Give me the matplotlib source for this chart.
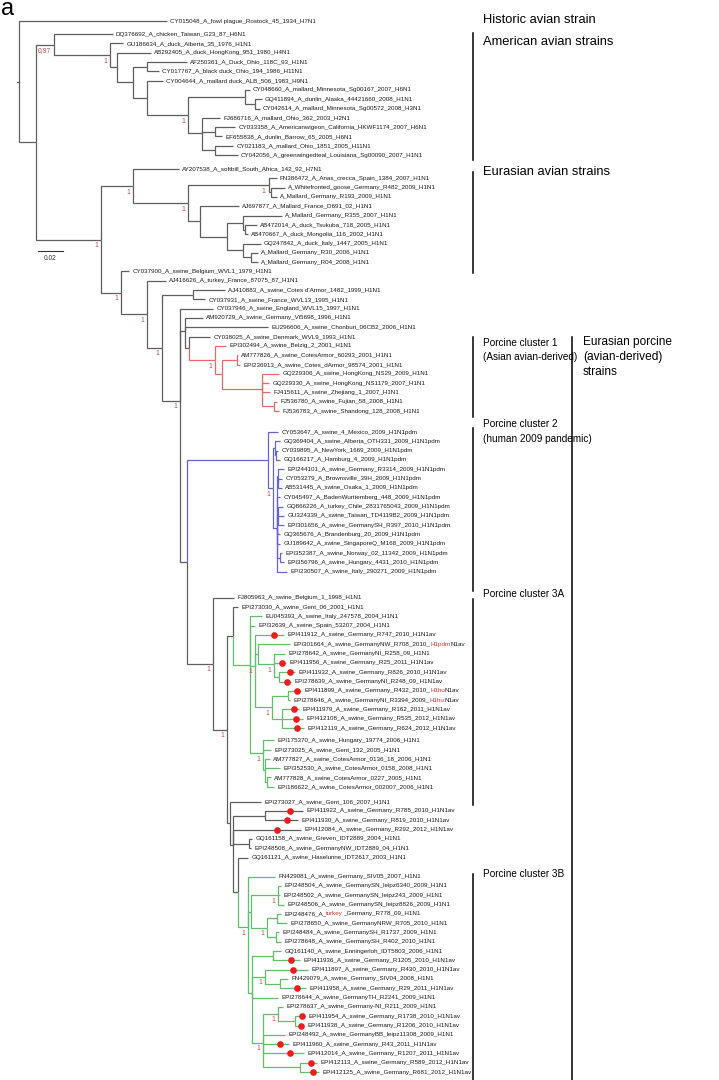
import re
import matplotlib
matplotlib.use('Agg')
import matplotlib.pyplot as plt

plt.rcParams['font.family'] = ['Liberation Sans', 'DejaVu Sans']

# ---------------- taxa (leaf labels; [..] marks red text) ----------------
historic_taxa = ["CY015048_A_fowl plague_Rostock_45_1934_H7N1"]
american_taxa = [
    "DQ376692_A_chicken_Taiwan_G23_87_H6N1",
    "GU186634_A_duck_Alberta_35_1976_H1N1",
    "AB292405_A_duck_HongKong_951_1980_H4N1",
    "AF250361_A_Duck_Ohio_118C_93_H1N1",
    "CY017767_A_black duck_Ohio_194_1986_H11N1",
    "CY004644_A_mallard duck_ALB_506_1983_H9N1",
    "CY048660_A_mallard_Minnesota_Sg00167_2007_H6N1",
    "GQ411894_A_dunlin_Alaska_44421660_2008_H1N1",
    "CY042614_A_mallard_Minnesota_Sg00572_2008_H3N1",
    "FJ686716_A_mallard_Ohio_362_2003_H2N1",
    "CY033358_A_Americanwigeon_California_HKWF1174_2007_H6N1",
    "EF655838_A_dunlin_Barrow_65_2005_H6N1",
    "CY021183_A_mallard_Ohio_1851_2005_H11N1",
    "CY042056_A_greenwingedteal_Louisiana_Sg00090_2007_H1N1",
]
eurasian_taxa = [
    "AY207538_A_softbill_South_Africa_142_92_H7N1",
    "FN386472_A_Anas_crecca_Spain_1384_2007_H1N1",
    "A_Whitefronted_goose_Germany_R482_2009_H1N1",
    "A_Mallard_Germany_R193_2009_H1N1",
    "AJ697877_A_Mallard_France_D691_02_H1N1",
    "A_Mallard_Germany_R355_2007_H1N1",
    "AB472014_A_duck_Tsukuba_718_2005_H1N1",
    "AB470667_A_duck_Mongolia_116_2002_H1N1",
    "GQ247842_A_duck_Italy_1447_2005_H1N1",
    "A_Mallard_Germany_R30_2006_H1N1",
    "A_Mallard_Germany_R04_2008_H1N1",
]
early_swine_taxa = [
    "CY037900_A_swine_Belgium_WVL1_1979_H1N1",
    "AJ416626_A_turkey_France_87075_87_H1N1",
    "AJ410883_A_swine_Cotes d'Armor_1482_1999_H1N1",
    "CY037931_A_swine_France_WVL13_1995_H1N1",
    "CY037946_A_swine_England_WVL15_1997_H1N1",
    "AM920729_A_swine_Germany_Vi5698_1996_H1N1",
    "EU296606_A_swine_Chonburi_06CB2_2006_H1N1",
    "CY038025_A_swine_Denmark_WVL9_1993_H1N1",
]
cluster1_taxa = [
    "EPI302494_A_swine_Belzig_2_2001_H1N1",
    "AM777826_A_swine_CotesArmor_60293_2001_H1N1",
    "EPI236913_A_swine_Cotes_dArmor_98574_2001_H1N1",
    "GQ229306_A_swine_HongKong_NS29_2009_H1N1",
    "GQ229330_A_swine_HongKong_NS1179_2007_H1N1",
    "FJ415611_A_swine_Zhejiang_1_2007_H1N1",
    "FJ536780_A_swine_Fujian_58_2008_H1N1",
    "FJ536783_A_swine_Shandong_128_2008_H1N1",
]
cluster2_taxa = [
    "CY053647_A_swine_4_Mexico_2009_H1N1pdm",
    "GQ369404_A_swine_Alberta_OTH331_2009_H1N1pdm",
    "CY039895_A_NewYork_1669_2009_H1N1pdm",
    "GQ166217_A_Hamburg_4_2009_H1N1pdm",
    "EPI244101_A_swine_Germany_R3314_2009_H1N1pdm",
    "CY053279_A_Brownsville_39H_2009_H1N1pdm",
    "AB531445_A_swine_Osaka_1_2009_H1N1pdm",
    "CY045497_A_BadenWurttemberg_448_2009_H1N1pdm",
    "GQ866226_A_turkey_Chile_2831765043_2009_H1N1pdm",
    "GU324339_A_swine_Taiwan_TD4119B2_2009_H1N1pdm",
    "EPI301656_A_swine_GermanySH_R397_2010_H1N1pdm",
    "GQ365676_A_Brandenburg_20_2009_H1N1pdm",
    "GU189642_A_swine_SingaporeQ_M168_2009_H1N1pdm",
    "EPI352387_A_swine_Norway_02_11342_2009_H1N1pdm",
    "EPI356796_A_swine_Hungary_4431_2010_H1N1pdm",
    "EPI230507_A_swine_Italy_290271_2009_H1N1pdm",
]
cluster3a_taxa = [
    "FJ805963_A_swine_Belgium_1_1998_H1N1",
    "EPI273030_A_swine_Gent_06_2001_H1N1",
    "EU045393_A_swine_Italy_247578_2004_H1N1",
    "EPI32639_A_swine_Spain_53207_2004_H1N1",
    "EPI411912_A_swine_Germany_R747_2010_H1N1av",
    "EPI301664_A_swine_GermanyNW_R708_2010_[H1pdm]N1av",
    "EPI278642_A_swine_GermanyNI_R258_09_H1N1",
    "EPI411956_A_swine_Germany_R25_2011_H1N1av",
    "EPI411932_A_swine_Germany_R826_2010_H1N1av",
    "EPI278639_A_swine_GermanyNI_R248_09_H1N1av",
    "EPI411899_A_swine_Germany_R432_2010_[H1hu]N1av",
    "EPI278646_A_swine_GermanyNI_R3394_2009_[H1hu]N1av",
    "EPI411979_A_swine_Germany_R162_2011_H1N1av",
    "EPI412108_A_swine_Germany_R535_2012_H1N1av",
    "EPI412119_A_swine_Germany_R624_2012_H1N1av",
    "EPI175370_A_swine_Hungary_19774_2006_H1N1",
    "EPI273025_A_swine_Gent_132_2005_H1N1",
    "AM777827_A_swine_CotesArmor_0136_18_2006_H1N1",
    "EPI352530_A_swine_CotesArmor_0158_2008_H1N1",
    "AM777828_A_swine_CotesArmor_0227_2005_H1N1",
    "EPI186622_A_swine_CotesArmor_002007_2006_H1N1",
]
between_taxa = [
    "EPI273027_A_swine_Gent_106_2007_H1N1",
    "EPI411922_A_swine_Germany_R785_2010_H1N1av",
    "EPI411930_A_swine_Germany_R819_2010_H1N1av",
    "EPI412084_A_swine_Germany_R292_2012_H1N1av",
    "GQ161158_A_swine_Greven_IDT2889_2004_H1N1",
    "EPI248508_A_swine_GermanyNW_IDT2889_04_H1N1",
    "GQ161121_A_swine_Haselunne_IDT2617_2003_H1N1",
]
cluster3b_taxa = [
    "FN429081_A_swine_Germany_SIV05_2007_H1N1",
    "EPI248504_A_swine_GermanySN_leipz6340_2009_H1N1",
    "EPI248502_A_swine_GermanySN_leipz243_2009_H1N1",
    "EPI248506_A_swine_GermanySN_leipz8826_2009_H1N1",
    "EPI248476_A_[turkey]_Germany_R778_09_H1N1",
    "EPI278650_A_swine_GermanyNRW_R705_2010_H1N1",
    "EPI248484_A_swine_GermanySH_R1737_2009_H1N1",
    "EPI278648_A_swine_GermanySH_R402_2010_H1N1",
    "GQ161140_A_swine_Enningerloh_IDT5803_2006_H1N1",
    "EPI411936_A_swine_Germany_R1205_2010_H1N1av",
    "EPI411897_A_swine_Germany_R430_2010_H1N1av",
    "FN429079_A_swine_Germany_SIV04_2008_H1N1",
    "EPI411958_A_swine_Germany_R29_2011_H1N1av",
    "EPI278644_A_swine_GermanyTH_R2241_2009_H1N1",
    "EPI278637_A_swine_Germany-NI_R211_2009_H1N1",
    "EPI411954_A_swine_Germany_R1738_2010_H1N1av",
    "EPI411938_A_swine_Germany_R1206_2010_H1N1av",
    "EPI248492_A_swine_GermanyBB_leipz11308_2009_H1N1",
    "EPI411960_A_swine_Germany_R43_2011_H1N1av",
    "EPI412014_A_swine_Germany_R1207_2011_H1N1av",
    "EPI412113_A_swine_Germany_R589_2012_H1N1av",
    "EPI412125_A_swine_Germany_R681_2012_H1N1av",
]

RED_LINE = '#e8696b'
BLUE_LINE = '#6464d8'
GREEN_LINE = '#5fbf6a'
GRAY_LINE = '#5e5e5e'


def L(name, bl, dot=False):
    return {'name': name, 'bl': bl, 'dot': dot, 'kids': None, 'sup': None, 'color': None}


def N(bl, *kids, sup=None, color=None):
    return {'name': None, 'bl': bl, 'dot': False, 'kids': list(kids), 'sup': sup, 'color': color}


# branch lengths in 1e-3 substitutions/site
am, eu, sw = american_taxa, eurasian_taxa, early_swine_taxa
c1, c2, c3a, bt, c3b = cluster1_taxa, cluster2_taxa, cluster3a_taxa, between_taxa, cluster3b_taxa

american_avian = N(14, L(am[0], 48),
    N(46, L(am[1], 10.5),
      N(5.7, L(am[2], 27.5),
        N(13, N(11.3, L(am[3], 32.4), L(am[4], 9.7)),
          N(11.3, L(am[5], 13),
            N(33, N(46, L(am[6], 4), N(8, L(am[7], 5.7), L(am[8], 4))),
              N(11.3, L(am[9], 14.6), N(10.5, L(am[10], 16.2), L(am[11], 5.7)),
                N(10.5, L(am[12], 14.6), L(am[13], 18.6))), sup=1)))), sup=1),
    sup=0.97)

eurasian_avian = N(26, L(eu[0], 36.5),
    N(44.5, N(65, L(eu[1], 6.5), N(1.6, L(eu[2], 11.3), L(eu[3], 4.9)), sup=1),
      N(9.7, L(eu[4], 31.6),
        N(21.9, N(12.2, L(eu[5], 31.6), N(2.4, L(eu[6], 9.7), L(eu[7], 2.4))),
          N(12.2, L(eu[8], 14.6), N(6.5, L(eu[9], 5.7), L(eu[10], 5.7))))), sup=1),
    sup=1)

porcine_cluster_1 = N(21, L(c1[0], 8.9),
    N(5.7, N(12.2, L(c1[1], 0.8), L(c1[2], 2.4)),
      N(32.4, L(c1[3], 13.8), L(c1[4], 5.7), L(c1[5], 6.5),
        N(9.7, L(c1[6], 2.4), L(c1[7], 4)))),
    sup=1, color=RED_LINE)

porcine_cluster_2 = N(65.6, L(c2[0], 8.1),
    N(4, N(1.6, L(c2[1], 4), N(0.8, L(c2[2], 1.6), L(c2[3], 3.2))),
      N(3.2, N(0.4, L(c2[4], 5.3), N(0.4, L(c2[5], 3.2), L(c2[6], 3.2))),
        L(c2[7], 2.4),
        N(0.4, L(c2[8], 4.5), L(c2[9], 5.3), L(c2[10], 5.3)),
        L(c2[11], 2.4), L(c2[12], 2.4),
        N(2.4, L(c2[13], 1.6), L(c2[14], 3.2)),
        L(c2[15], 8.1)), sup=1),
    color=BLUE_LINE)

porcine_cluster_3a = N(13.8, L(c3a[2], 9.7), L(c3a[3], 4),
    N(4, L(c3a[4], 23.5, True),
      N(2.4, L(c3a[5], 25.9),
        N(13, L(c3a[6], 8.9), L(c3a[7], 9.7, True),
          N(4, L(c3a[8], 13, True), L(c3a[9], 9.7, True)), sup=1)),
      N(13.8, N(13, L(c3a[10], 10.5, True), L(c3a[11], 1.6)),
        N(8.1, L(c3a[12], 13.8, True), L(c3a[13], 17, True), L(c3a[14], 17.8, True)), sup=1),
      sup=1),
    N(10.5, L(c3a[15], 8.9), L(c3a[16], 6.5),
      N(1.6, L(c3a[17], 4), L(c3a[18], 12.2), N(1.6, L(c3a[19], 3.2), L(c3a[20], 5.7))),
      sup=1),
    color=GREEN_LINE)

porcine_cluster_3b = N(8.1, L(c3b[0], 21.9),
    N(2.4, N(21.9, L(c3b[1], 2.4), L(c3b[2], 1.6), L(c3b[3], 4.9), sup=1),
      N(13, N(8.1, L(c3b[4], 3.2), L(c3b[5], 8.1)), N(7.3, L(c3b[6], 2.4), L(c3b[7], 4)), sup=1)),
    N(3.2, N(17, L(c3b[8], 6.5), L(c3b[9], 21.9, True)),
      N(10.5, L(c3b[10], 34.8, True), N(12.2, L(c3b[11], 6.5), L(c3b[12], 21, True)), sup=1),
      L(c3b[13], 21),
      N(8.9, N(12.2, L(c3b[14], 4), N(13.8, L(c3b[15], 8.1, True), L(c3b[16], 7.3, True)), sup=1),
        L(c3b[17], 17.8), L(c3b[18], 21, True), L(c3b[19], 33.2, True),
        N(30, L(c3b[20], 13.8, True), L(c3b[21], 15.4, True)), sup=1)),
    sup=1, color=GREEN_LINE)

between_clade = N(2.4,
    N(26, L(bt[1], 30.8, True), L(bt[2], 26.7, True)),
    L(bt[3], 55, True),
    N(13, L(bt[4], 2.4), L(bt[5], 1.6)),
    N(4, L(bt[6], 8.1), porcine_cluster_3b))

swine = N(16.2, L(sw[0], 6.5),
    N(21, L(sw[1], 15.4),
      N(12.2, N(25, L(sw[2], 25.9), L(sw[3], 9.7)),
        N(14.6, L(sw[4], 26.7),
          N(4, L(sw[5], 14.6), L(sw[6], 67.2), N(3.2, L(sw[7], 17), porcine_cluster_1)),
          N(5.7, porcine_cluster_2,
            N(21, L(c3a[0], 17),
              N(11.3, N(4.9, L(c3a[1], 4), porcine_cluster_3a),
                N(2.4, L(bt[0], 25), between_clade), sup=1), sup=1)), sup=1),
        sup=1), sup=1),
    sup=1)

tree = N(0, L(historic_taxa[0], 120),
         N(14, american_avian, N(52.7, eurasian_avian, swine, sup=1)))

# extra spacing (in rows) before some leaves
row_gaps = {"DQ376692": 0.4, "AY207538": 0.5, "CY053647": 1.25, "FJ805963": 1.8,
            "EPI175370": 0.3, "EPI273027": 0.6, "FN429081": 1.05}

# ---------------- layout ----------------
W, H = 719, 1080
ROOT_PX = 19
PX = 0.02 / 24.7          # substitutions per pixel
UNIT = 1e-3
ROW = 9.31
Y0 = 21
state = {'i': 0, 'gap': 0.0}


def layout(nd, xp, cp):
    nd['x'] = xp + nd['bl'] * UNIT
    nd['col'] = nd['color'] or cp
    if nd['kids'] is None:
        state['gap'] += row_gaps.get(nd['name'].split('_')[0], 0)
        nd['y'] = Y0 + ROW * (state['i'] + state['gap'])
        state['i'] += 1
    else:
        for k in nd['kids']:
            layout(k, nd['x'], nd['col'])
        nd['y'] = sum(k['y'] for k in nd['kids']) / len(nd['kids'])


layout(tree, 0.0, GRAY_LINE)

fig = plt.figure(figsize=(W / 100, H / 100), dpi=100)
ax = fig.add_axes([0, 0, 1, 1])
ax.set_xlim(-ROOT_PX * PX, (W - ROOT_PX) * PX)
ax.set_ylim(H, 0)
ax.axis('off')


def X(px):
    return (px - ROOT_PX) * PX


LW = 0.9
FS = 4.5
SUP_COL = '#c0504d'
TXT_RED = '#d9302c'


def draw_label(x, y, text):
    parts = [p for p in re.split(r'(\[[^\]]+\])', text) if p]
    prev = None
    for p in parts:
        red = p.startswith('[')
        s = p.strip('[]')
        col = TXT_RED if red else '#1a1a1a'
        if prev is None:
            prev = ax.text(x, y, s, fontsize=FS, va='center', ha='left', color=col)
        else:
            prev = ax.annotate(s, xy=(1, 0), xycoords=prev, fontsize=FS,
                               va='bottom', ha='left', color=col)


def draw(nd):
    if nd['kids'] is None:
        draw_label(nd['x'] + 3 * PX, nd['y'], nd['name'])
        return
    for k in nd['kids']:
        ax.plot([nd['x'], nd['x'], k['x']], [nd['y'], k['y'], k['y']],
                color=k['col'], lw=LW, solid_capstyle='butt', solid_joinstyle='miter')
        if k['dot']:
            xd = nd['x'] + 0.65 * (k['x'] - nd['x'])
            ax.plot([xd], [k['y']], 'o', ms=4.8, color='#ee1c1c', mec='none', zorder=5)
        draw(k)
    if nd['sup'] is not None:
        s = '1' if nd['sup'] == 1 else ('%g' % nd['sup']).replace('.', ',')
        ax.text(nd['x'] - 3 * PX, nd['y'] + 6, s, fontsize=4.9, color=SUP_COL,
                ha='right', va='center')


ax.plot([tree['x'] - 2 * PX, tree['x']], [tree['y'], tree['y']], color=GRAY_LINE, lw=LW)
draw(tree)

# scale bar
ax.plot([X(38), X(38) + 0.02], [251, 251], color='#333333', lw=0.8)
ax.text(X(50), 259, '0.02', fontsize=4.8, ha='center', va='center', color='#333333')

# panel letter
ax.text(X(1), 15, 'a', fontsize=17, ha='left', va='baseline', color='black')

# clade brackets and labels
GFS = 9.3
CFS = 7.2
EFS = 8.6
ax.text(X(483), 20, 'Historic avian strain', fontsize=GFS, va='center', ha='left')
brackets = [
    (33, 160, ['American avian strains'], 42, GFS),
    (172, 273, ['Eurasian avian strains'], 172, GFS),
    (337, 417, ['Porcine cluster 1', '(Asian avian-derived)'], 343, CFS),
    (428, 591, ['Porcine cluster 2', '(human 2009 pandemic)'], 424, CFS),
    (599, 805, ['Porcine cluster 3A'], 594, CFS),
    (874, 1080, ['Porcine cluster 3B'], 874, CFS),
]
for y1, y2, lines, ty, fs in brackets:
    ax.plot([X(473), X(473)], [y1, y2], color='black', lw=1.1)
    for j, t in enumerate(lines):
        ax.text(X(483), ty + j * 14.5, t, fontsize=fs, va='center', ha='left')

ax.plot([X(572), X(572)], [337, 1080], color='black', lw=1.1)
for j, t in enumerate(['Eurasian porcine', '(avian-derived)', 'strains']):
    ax.text(X(583), 342 + j * 15, t, fontsize=EFS, va='center', ha='left')

fig.savefig('out.png', dpi=100)
